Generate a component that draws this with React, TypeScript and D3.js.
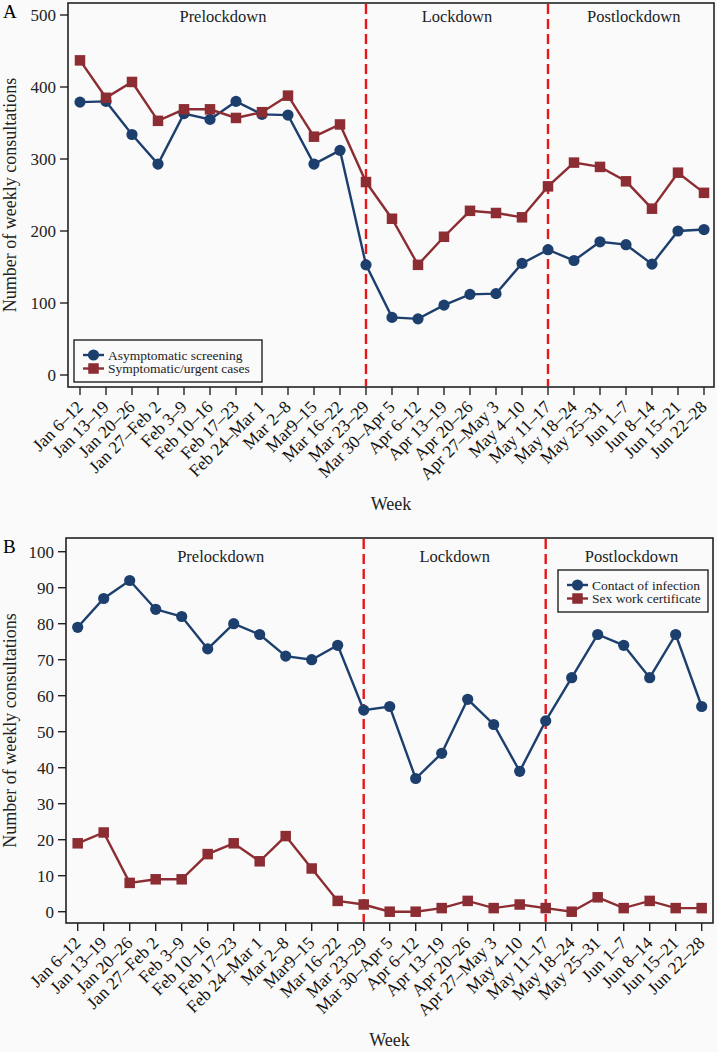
import React from "react";
import * as d3 from "d3";

const weeks = [
  "Jan 6–12", "Jan 13–19", "Jan 20–26", "Jan 27–Feb 2", "Feb 3–9", "Feb 10–16",
  "Feb 17–23", "Feb 24–Mar 1", "Mar 2–8", "Mar9–15", "Mar 16–22", "Mar 23–29",
  "Mar 30–Apr 5", "Apr 6–12", "Apr 13–19", "Apr 20–26", "Apr 27–May 3", "May 4–10",
  "May 11–17", "May 18–24", "May 25–31", "Jun 1–7", "Jun 8–14", "Jun 15–21", "Jun 22–28",
];

const asymptomatic = [379, 380, 334, 293, 363, 355, 380, 362, 361, 293, 312, 153, 80, 78, 97, 112, 113, 155, 174, 159, 185, 181, 154, 200, 202];
const symptomatic = [437, 385, 407, 353, 369, 369, 357, 365, 388, 331, 348, 268, 217, 153, 192, 228, 225, 219, 262, 295, 289, 269, 231, 281, 253];

const contactInfection = [79, 87, 92, 84, 82, 73, 80, 77, 71, 70, 74, 56, 57, 37, 44, 59, 52, 39, 53, 65, 77, 74, 65, 77, 57];
const sexWork = [19, 22, 8, 9, 9, 16, 19, 14, 21, 12, 3, 2, 0, 0, 1, 3, 1, 2, 1, 0, 4, 1, 3, 1, 1];

const ticksA = [0, 100, 200, 300, 400, 500];
const ticksB = [0, 10, 20, 30, 40, 50, 60, 70, 80, 90, 100];
const cutWeeks = ["Mar 23–29", "May 11–17"];
const periods = ["Prelockdown", "Lockdown", "Postlockdown"];
const periodPos = [5.5, 14.5, 21.3];

const BLUE = "#1d3f6d";
const RED = "#8c2d33";
const DASH = "#e8161b";
const FONT = "'Liberation Serif', 'Times New Roman', serif";

type PanelProps = {
  letter: string;
  frame: { x0: number; x1: number; y0: number; y1: number };
  xr: [number, number];
  yDomain: [number, number];
  yRange: [number, number];
  ticks: number[];
  s1: number[];
  s2: number[];
  names: [string, string];
  legend: { x: number; y: number; w: number; h: number };
  periodY: number;
};

function Panel(p: PanelProps) {
  const x = d3.scalePoint<string>().domain(weeks).range(p.xr);
  const y = d3.scaleLinear().domain(p.yDomain).range(p.yRange);
  const line = d3.line<number>().x((_, i) => x(weeks[i])!).y((d) => y(d));
  const { x0, x1, y0, y1 } = p.frame;
  const ms = 10.5;
  const lg = p.legend;
  return (
    <g>
      <text x={3} y={y0 + 15} fontSize={19} fontFamily={FONT}>{p.letter}</text>
      <rect x={x0} y={y0} width={x1 - x0} height={y1 - y0} fill="#fafafa" stroke="#222" strokeWidth={1.6} />
      {cutWeeks.map((w) => (
        <line key={w} x1={x(w)} x2={x(w)} y1={y0 + 1} y2={y1 - 1} stroke={DASH} strokeWidth={2.4} strokeDasharray="10,5" />
      ))}
      {periods.map((t, i) => (
        <text key={t} x={p.xr[0] + periodPos[i] * x.step()} y={p.periodY} fontSize={16.5} fontFamily={FONT} textAnchor="middle" fill="#222">{t}</text>
      ))}
      <path d={line(p.s1)!} fill="none" stroke={BLUE} strokeWidth={2.4} />
      <path d={line(p.s2)!} fill="none" stroke={RED} strokeWidth={2.4} />
      {p.s1.map((v, i) => (
        <circle key={"c" + i} cx={x(weeks[i])} cy={y(v)} r={5.6} fill={BLUE} />
      ))}
      {p.s2.map((v, i) => (
        <rect key={"s" + i} x={x(weeks[i])! - ms / 2} y={y(v) - ms / 2} width={ms} height={ms} fill={RED} />
      ))}
      {p.ticks.map((t) => (
        <g key={t}>
          <line x1={x0 - 8} x2={x0} y1={y(t)} y2={y(t)} stroke="#222" strokeWidth={1.4} />
          <text x={x0 - 12} y={y(t) + 5.8} fontSize={17} fontFamily={FONT} textAnchor="end" fill="#222">{t}</text>
        </g>
      ))}
      {weeks.map((w) => (
        <g key={w}>
          <line x1={x(w)} x2={x(w)} y1={y1} y2={y1 + 8} stroke="#222" strokeWidth={1.4} />
          <text transform={`translate(${x(w)! + 4},${y1 + 21}) rotate(-45)`} fontSize={17.5} fontFamily={FONT} textAnchor="end" fill="#111">{w}</text>
        </g>
      ))}
      <text x={(x0 + x1) / 2} y={y1 + 123} fontSize={18} fontFamily={FONT} textAnchor="middle" fill="#222">Week</text>
      <text transform={`translate(16,${(y0 + y1) / 2}) rotate(-90)`} fontSize={18} fontFamily={FONT} textAnchor="middle" fill="#222">Number of weekly consultations</text>
      <rect x={lg.x} y={lg.y} width={lg.w} height={lg.h} fill="#fafafa" stroke="#222" strokeWidth={1.4} />
      <g>
        <line x1={lg.x + 9} x2={lg.x + 30} y1={lg.y + 15} y2={lg.y + 15} stroke={BLUE} strokeWidth={2.4} />
        <circle cx={lg.x + 19.5} cy={lg.y + 15} r={5.6} fill={BLUE} />
        <text x={lg.x + 34} y={lg.y + 19.5} fontSize={13.5} fontFamily={FONT} fill="#222">{p.names[0]}</text>
        <line x1={lg.x + 9} x2={lg.x + 30} y1={lg.y + 28.5} y2={lg.y + 28.5} stroke={RED} strokeWidth={2.4} />
        <rect x={lg.x + 19.5 - ms / 2} y={lg.y + 28.5 - ms / 2} width={ms} height={ms} fill={RED} />
        <text x={lg.x + 34} y={lg.y + 33} fontSize={13.5} fontFamily={FONT} fill="#222">{p.names[1]}</text>
      </g>
    </g>
  );
}

export default function App() {
  return (
    <svg width={717} height={1052} style={{ position: "absolute", left: 0, top: 0, background: "#fafafa" }}>
      <rect x={0} y={0} width={717} height={1052} fill="#fafafa" />
      <Panel
        letter="A"
        frame={{ x0: 68, x1: 714, y0: 3, y1: 387 }}
        xr={[80, 704]}
        yDomain={[0, 500]}
        yRange={[375, 15]}
        ticks={ticksA}
        s1={asymptomatic}
        s2={symptomatic}
        names={["Asymptomatic screening", "Symptomatic/urgent cases"]}
        legend={{ x: 74, y: 340, w: 188, h: 42 }}
        periodY={22}
      />
      <Panel
        letter="B"
        frame={{ x0: 66, x1: 713, y0: 538, y1: 923 }}
        xr={[77.7, 701.7]}
        yDomain={[0, 100]}
        yRange={[911.7, 551.7]}
        ticks={ticksB}
        s1={contactInfection}
        s2={sexWork}
        names={["Contact of infection", "Sex work certificate"]}
        legend={{ x: 558, y: 570, w: 150, h: 42 }}
        periodY={562}
      />
    </svg>
  );
}
